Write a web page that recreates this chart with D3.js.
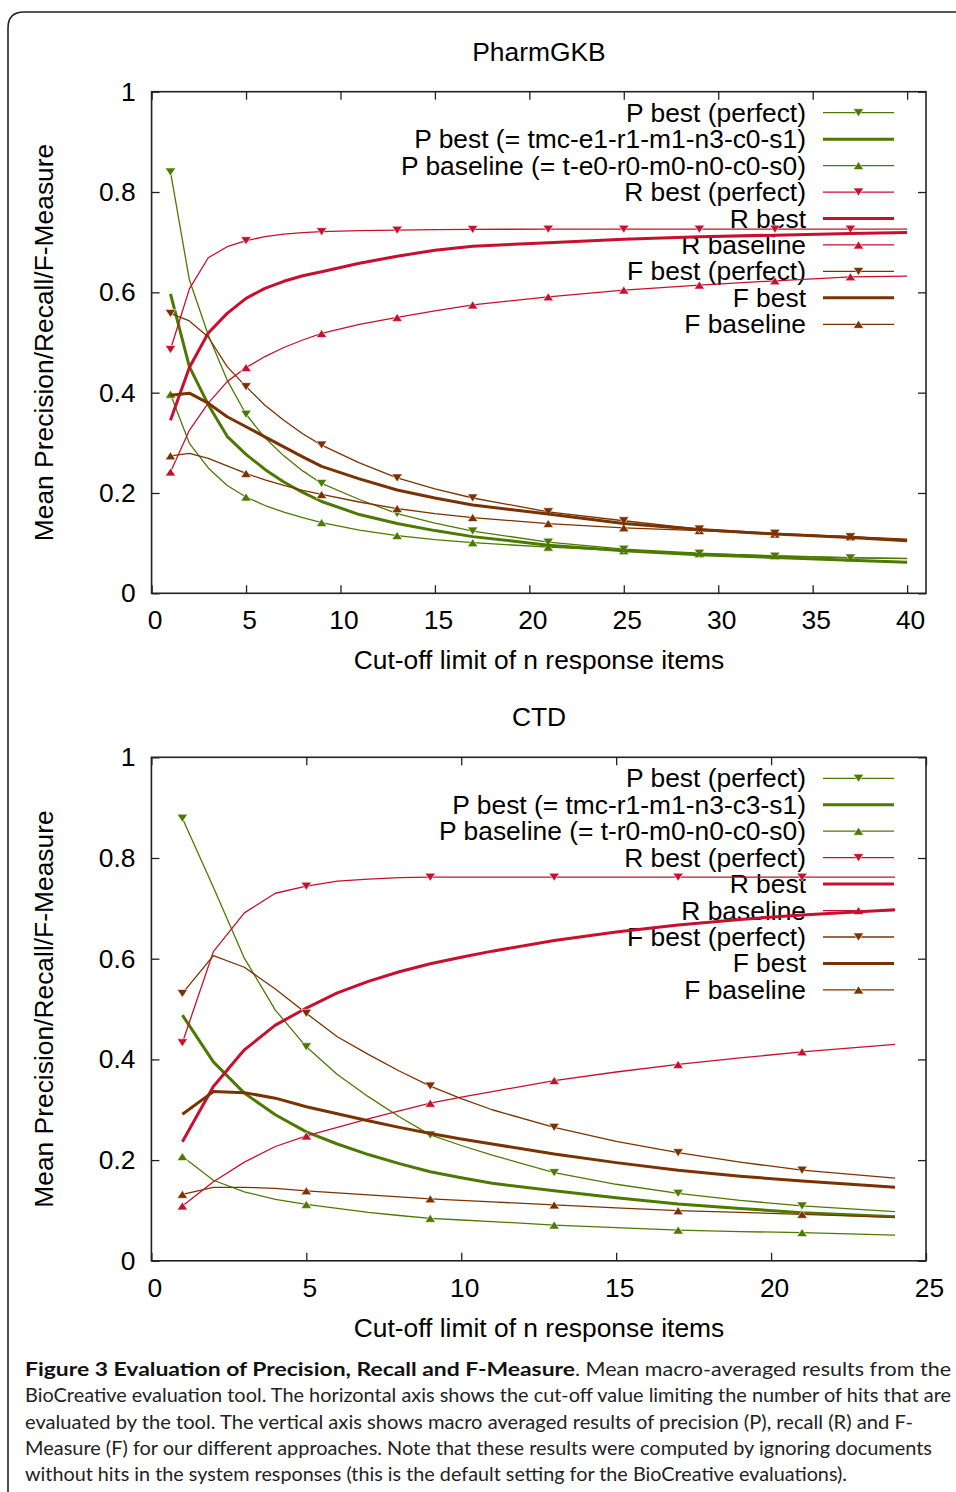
<!DOCTYPE html>
<html><head><meta charset="utf-8">
<script src="https://cdn.jsdelivr.net/npm/d3@7"></script>
<style>
body{margin:0;background:#fff;}
svg text{font-family:"Liberation Sans",Arial,Helvetica,sans-serif;fill:#000;}
</style></head><body>
<svg id="fig" width="956" height="1492"></svg>
<script>
// ---------- DATA ----------
const xTop = [1,2,3,4,5,6,7,8,9,11,13,15,17,21,25,29,33,37,40];
const pharmPperfect = [0.840,0.625,0.515,0.425,0.357,0.310,0.274,0.244,0.219,0.187,0.159,0.140,0.124,0.102,0.088,0.080,0.074,0.0705,0.069];
const pharmPbest    = [0.597,0.452,0.376,0.313,0.277,0.247,0.222,0.201,0.183,0.157,0.139,0.125,0.113,0.096,0.085,0.077,0.0715,0.066,0.062];
const pharmPbase    = [0.397,0.299,0.250,0.215,0.192,0.175,0.162,0.151,0.141,0.126,0.115,0.107,0.101,0.092,0.085,0.079,0.075,0.071,0.0695];
const pharmRperfect = [0.486,0.607,0.669,0.691,0.703,0.711,0.716,0.719,0.721,0.723,0.724,0.725,0.7255,0.726,0.726,0.726,0.726,0.726,0.726];
const pharmRbest    = [0.345,0.450,0.519,0.558,0.588,0.608,0.622,0.633,0.641,0.658,0.672,0.684,0.692,0.699,0.706,0.711,0.714,0.7175,0.7195];
const pharmRbase    = [0.242,0.325,0.379,0.422,0.450,0.472,0.490,0.505,0.518,0.536,0.550,0.563,0.575,0.591,0.6045,0.6145,0.623,0.631,0.6325];
const pharmFperfect = [0.558,0.543,0.511,0.452,0.412,0.375,0.345,0.318,0.2955,0.260,0.230,0.208,0.190,0.1625,0.1446,0.128,0.1195,0.1127,0.108];
const pharmFbest    = [0.395,0.399,0.379,0.352,0.332,0.312,0.292,0.272,0.253,0.228,0.206,0.190,0.176,0.158,0.139,0.127,0.118,0.111,0.105];
const pharmFbase    = [0.274,0.279,0.269,0.254,0.239,0.226,0.215,0.205,0.197,0.182,0.169,0.159,0.151,0.139,0.1306,0.125,0.118,0.1127,0.106];

const xBot = [1,2,3,4,5,6,7,8,9,10,11,13,15,17,19,21,24];
const ctdPperfect = [0.879,0.742,0.601,0.498,0.425,0.370,0.326,0.286,0.250,0.229,0.210,0.175,0.152,0.134,0.120,0.109,0.0975];
const ctdPbest    = [0.488,0.395,0.333,0.290,0.256,0.232,0.211,0.193,0.177,0.165,0.154,0.139,0.125,0.113,0.104,0.0956,0.0876];
const ctdPbase    = [0.207,0.160,0.137,0.122,0.112,0.104,0.096,0.090,0.0844,0.081,0.078,0.071,0.066,0.061,0.058,0.056,0.051];
const ctdRperfect = [0.433,0.614,0.691,0.730,0.744,0.754,0.758,0.761,0.762,0.762,0.762,0.762,0.762,0.762,0.762,0.762,0.762];
const ctdRbest    = [0.2365,0.346,0.419,0.468,0.502,0.532,0.555,0.574,0.590,0.603,0.615,0.636,0.653,0.667,0.678,0.687,0.697];
const ctdRbase    = [0.109,0.157,0.196,0.227,0.248,0.265,0.282,0.298,0.313,0.325,0.336,0.358,0.375,0.390,0.403,0.415,0.430];
const ctdFperfect = [0.531,0.606,0.583,0.540,0.4915,0.445,0.410,0.377,0.347,0.322,0.300,0.265,0.237,0.2147,0.196,0.180,0.164];
const ctdFbest    = [0.291,0.336,0.334,0.323,0.306,0.292,0.278,0.265,0.253,0.242,0.232,0.212,0.195,0.180,0.168,0.1585,0.146];
const ctdFbase    = [0.132,0.146,0.146,0.144,0.139,0.135,0.131,0.127,0.123,0.120,0.117,0.111,0.105,0.0995,0.096,0.0923,0.0864];

const topLabels = ["P best (perfect)","P best (= tmc-e1-r1-m1-n3-c0-s1)","P baseline (= t-e0-r0-m0-n0-c0-s0)",
  "R best (perfect)","R best","R baseline","F best (perfect)","F best","F baseline"];
const botLabels = ["P best (perfect)","P best (= tmc-r1-m1-n3-c3-s1)","P baseline (= t-r0-m0-n0-c0-s0)",
  "R best (perfect)","R best","R baseline","F best (perfect)","F best","F baseline"];
const yTicks = [0,0.2,0.4,0.6,0.8,1];
const yTickLabels = ["0","0.2","0.4","0.6","0.8","1"];
const xTicksTop = [0,5,10,15,20,25,30,35,40];
const xTicksBot = [0,5,10,15,20,25];
const yAxisTitle = "Mean Precision/Recall/F-Measure";
const xAxisTitle = "Cut-off limit of n response items";

// ---------- STYLE ----------
const GREEN = "#4c7a00", RED = "#c8102e", BROWN = "#7a3300";
const FS = 26.4;
const kinds = [ // color, width, marker
  [GREEN,1.3,"down"],[GREEN,3,null],[GREEN,1.3,"up"],
  [RED,1.3,"down"],[RED,3,null],[RED,1.3,"up"],
  [BROWN,1.3,"down"],[BROWN,3,null],[BROWN,1.3,"up"]];

const svg = d3.select("#fig");

function tri(dir){
  const w=5.2,h=8;
  return dir==="down" ? `M${-w},${-h/2}L${w},${-h/2}L0,${h/2}Z` : `M${-w},${h/2}L${w},${h/2}L0,${-h/2}Z`;
}

function chart(cfg){
  const g = svg.append("g");
  const x = d3.scaleLinear().domain(cfg.xdom).range([cfg.left,cfg.right]);
  const y = d3.scaleLinear().domain([0,1]).range([cfg.bottom,cfg.top]);
  const tk = 8;
  const axB = g.append("g").attr("transform",`translate(0,${cfg.bottom})`).call(d3.axisBottom(x).tickValues(cfg.xticks).tickSize(-tk).tickFormat(""));
  const axT = g.append("g").attr("transform",`translate(0,${cfg.top})`).call(d3.axisTop(x).tickValues(cfg.xticks).tickSize(-tk).tickFormat(""));
  const axL = g.append("g").attr("transform",`translate(${cfg.left},0)`).call(d3.axisLeft(y).tickValues(yTicks).tickSize(-tk).tickFormat(""));
  const axR = g.append("g").attr("transform",`translate(${cfg.right},0)`).call(d3.axisRight(y).tickValues(yTicks).tickSize(-tk).tickFormat(""));
  [axB,axT,axL,axR].forEach(a=>{a.select(".domain").remove(); a.selectAll("line").attr("stroke","#222").attr("stroke-width",1.3);});
  g.selectAll(".xl").data(cfg.xticks).join("text").attr("x",d=>x(d)+3.5).attr("y",cfg.bottom+36)
    .attr("text-anchor","middle").attr("font-size",FS).text(d=>d);
  g.selectAll(".yl").data(yTicks).join("text").attr("x",cfg.left-16).attr("y",d=>y(d)+9)
    .attr("text-anchor","end").attr("font-size",FS).text((d,i)=>yTickLabels[i]);
  g.append("text").attr("x",539).attr("y",cfg.top-31).attr("text-anchor","middle").attr("font-size",FS).text(cfg.title);
  g.append("text").attr("x",539).attr("y",cfg.bottom+76).attr("text-anchor","middle").attr("font-size",FS).text(xAxisTitle);
  g.append("text").attr("transform",`translate(52.5,${(cfg.top+cfg.bottom)/2}) rotate(-90)`)
    .attr("text-anchor","middle").attr("font-size",FS).text(yAxisTitle);
  const lg = g.append("g");
  cfg.labels.forEach((lab,i)=>{
    const ly = cfg.top+21+i*26.45;
    const [c,w,m] = kinds[i];
    lg.append("text").attr("x",806).attr("y",ly+9).attr("text-anchor","end").attr("font-size",FS).text(lab);
    lg.append("line").attr("x1",823).attr("x2",894).attr("y1",ly).attr("y2",ly).attr("stroke",c).attr("stroke-width",w);
    if(m) lg.append("path").attr("d",tri(m)).attr("transform",`translate(858.5,${ly})`).attr("fill",c).attr("stroke","#fff").attr("stroke-width",0.6);
  });
  const line = d3.line().x(d=>x(d[0])).y(d=>y(d[1]));
  const order = [2,0,1,5,3,4,8,6,7];
  order.forEach(i=>{
    const vals = cfg.series[i]; const [c,w,m] = kinds[i];
    const pts = cfg.xs.map((xx,j)=>[xx,vals[j]]);
    g.append("path").attr("d",line(pts)).attr("fill","none").attr("stroke",c).attr("stroke-width",w).attr("stroke-linejoin","round");
    if(m){
      g.selectAll(null).data(pts.filter(p=>(p[0]-1)%4===0)).join("path").attr("d",tri(m))
        .attr("transform",p=>`translate(${x(p[0])},${y(p[1])})`).attr("fill",c).attr("stroke","#fff").attr("stroke-width",0.6);
    }
  });
  g.append("rect").attr("x",cfg.left).attr("y",cfg.top).attr("width",cfg.right-cfg.left).attr("height",cfg.bottom-cfg.top)
    .attr("fill","none").attr("stroke","#222").attr("stroke-width",1.6);
}

chart({title:"PharmGKB",xdom:[0,41],left:151.6,right:926,top:91.7,bottom:593.3,xticks:xTicksTop,labels:topLabels,xs:xTop,
  series:[pharmPperfect,pharmPbest,pharmPbase,pharmRperfect,pharmRbest,pharmRbase,pharmFperfect,pharmFbest,pharmFbase]});
chart({title:"CTD",xdom:[0,25],left:151.4,right:926,top:757.3,bottom:1260.8,xticks:xTicksBot,labels:botLabels,xs:xBot,
  series:[ctdPperfect,ctdPbest,ctdPbase,ctdRperfect,ctdRbest,ctdRbase,ctdFperfect,ctdFbest,ctdFbase]});

svg.append("path").attr("d","M8,1500L8,28Q8,12 24,12L960,12").attr("fill","none").attr("stroke","#222").attr("stroke-width",1.6);

const cap = svg.append("g").attr("font-size",19);
const capFont = "Lato, 'Open Sans', sans-serif";
cap.append("text").attr("x",25).attr("y",1376).attr("font-weight","bold").style("font-family",capFont).style("fill","#111")
  .attr("textLength",550).attr("lengthAdjust","spacingAndGlyphs").text("Figure 3 Evaluation of Precision, Recall and F-Measure");
cap.append("text").attr("x",575).attr("y",1376).style("font-family",capFont).style("fill","#222")
  .attr("textLength",376).attr("lengthAdjust","spacingAndGlyphs").text(". Mean macro-averaged results from the");
const capLines = [
  ["BioCreative evaluation tool. The horizontal axis shows the cut-off value limiting the number of hits that are",926],
  ["evaluated by the tool. The vertical axis shows macro averaged results of precision (P), recall (R) and F-",888],
  ["Measure (F) for our different approaches. Note that these results were computed by ignoring documents",907],
  ["without hits in the system responses (this is the default setting for the BioCreative evaluations).",822]];
capLines.forEach((l,i)=>{
  cap.append("text").attr("x",25).attr("y",1402.3+i*26.3).style("font-family",capFont).style("fill","#222")
    .attr("textLength",l[1]).attr("lengthAdjust","spacingAndGlyphs").text(l[0]);
});
</script>
</body></html>
